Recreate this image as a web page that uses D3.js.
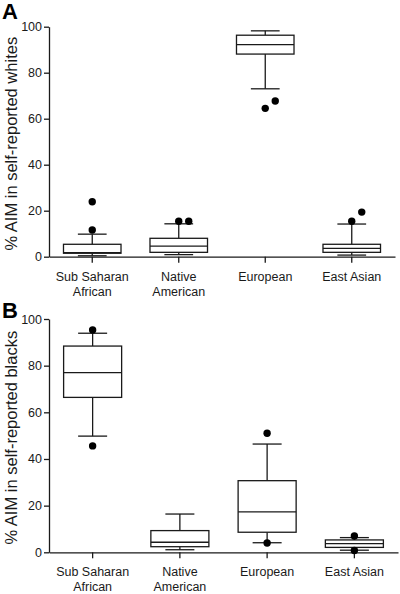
<!DOCTYPE html>
<html>
<head>
<meta charset="utf-8">
<script src="https://cdn.jsdelivr.net/npm/d3@7"></script>
<style>
  html, body { margin: 0; padding: 0; background: #fff; }
  svg { display: block; font-family: "Liberation Sans", Arial, Helvetica, sans-serif; }
</style>
</head>
<body>
<svg id="chart" width="400" height="594"></svg>
<script>
// ---- Data ----
const categories = ["Sub Saharan\nAfrican", "Native\nAmerican", "European", "East Asian"];
const yTicks = [0, 20, 40, 60, 80, 100];

// Panel A: self-reported whites
const whitesLow     = [0.4, 0.9, 73.0, 0.7];
const whitesQ1      = [1.5, 1.9, 88.1, 1.9];
const whitesMedian  = [1.8, 4.6, 92.2, 3.6];
const whitesQ3      = [5.4, 8.0, 96.3, 5.4];
const whitesHigh    = [9.8, 14.3, 98.2, 14.2];
const whitesOutliers = [[11.6, 23.9], [15.4, 15.4], [64.5, 67.7], [15.4, 19.4]];

// Panel B: self-reported blacks
const blacksLow     = [49.8, 1.1, 4.1, 0.9];
const blacksQ1      = [66.4, 2.4, 8.6, 2.1];
const blacksMedian  = [77.0, 4.3, 17.3, 3.7];
const blacksQ3      = [88.4, 9.3, 30.7, 5.3];
const blacksHigh    = [93.9, 16.4, 46.4, 6.3];
const blacksOutliers = [[45.6, 95.3], [], [4.0, 51.0], [0.8, 7.0]];

const panels = [
  { letter: "A", title: "% AIM in self-reported whites",
    low: whitesLow, q1: whitesQ1, med: whitesMedian, q3: whitesQ3, high: whitesHigh, out: whitesOutliers,
    top: 26.7, bottom: 256.7, left: 49, right: 395, letterY: 19 },
  { letter: "B", title: "% AIM in self-reported blacks",
    low: blacksLow, q1: blacksQ1, med: blacksMedian, q3: blacksQ3, high: blacksHigh, out: blacksOutliers,
    top: 319, bottom: 552.3, left: 49, right: 398, letterY: 318 }
];

const svg = d3.select("#chart");
const ink = "#1a1a1a";

panels.forEach(p => {
  const g = svg.append("g");
  const y = d3.scaleLinear().domain([0, 100]).range([p.bottom, p.top]);
  const x = d3.scaleBand().domain(categories).range([p.left, p.right]).paddingInner(0).paddingOuter(0);
  const boxW = x.bandwidth() * 0.665;
  const capW = boxW / 2;

  // y axis
  const ya = g.append("g").attr("transform", `translate(${p.left},0)`)
    .call(d3.axisLeft(y).tickValues(yTicks).tickSize(5).tickSizeOuter(0).tickPadding(2));
  ya.selectAll("text").attr("font-size", 12.5).attr("fill", ink).attr("font-family", "Liberation Sans, Arial, sans-serif");
  ya.selectAll("line, path").attr("stroke", ink).attr("stroke-width", 1.3);

  // x axis
  const xa = g.append("g").attr("transform", `translate(0,${p.bottom})`)
    .call(d3.axisBottom(x).tickSize(6).tickSizeOuter(0).tickFormat(""));
  xa.selectAll("line, path").attr("stroke", ink).attr("stroke-width", 1.3);
  xa.selectAll(".tick").each(function(d) {
    const t = d3.select(this).append("text")
      .attr("fill", ink).attr("font-size", 12.5).attr("text-anchor", "middle")
      .attr("font-family", "Liberation Sans, Arial, sans-serif");
    d.split("\n").forEach((line, i) => {
      t.append("tspan").attr("x", 0).attr("y", 24 + i * 15).text(line);
    });
  });

  // boxes
  categories.forEach((c, i) => {
    const cx = x(c) + x.bandwidth() / 2;
    const bg = g.append("g");
    // whiskers
    bg.append("line").attr("x1", cx).attr("x2", cx).attr("y1", y(p.q3[i])).attr("y2", y(p.high[i]));
    bg.append("line").attr("x1", cx).attr("x2", cx).attr("y1", y(p.q1[i])).attr("y2", y(p.low[i]));
    bg.append("line").attr("x1", cx - capW / 2).attr("x2", cx + capW / 2).attr("y1", y(p.high[i])).attr("y2", y(p.high[i]));
    bg.append("line").attr("x1", cx - capW / 2).attr("x2", cx + capW / 2).attr("y1", y(p.low[i])).attr("y2", y(p.low[i]));
    // box
    bg.append("rect").attr("x", cx - boxW / 2).attr("y", y(p.q3[i]))
      .attr("width", boxW).attr("height", y(p.q1[i]) - y(p.q3[i]))
      .attr("fill", "#fff");
    bg.append("line").attr("x1", cx - boxW / 2).attr("x2", cx + boxW / 2).attr("y1", y(p.med[i])).attr("y2", y(p.med[i]));
    bg.selectAll("line, rect").attr("stroke", ink).attr("stroke-width", 1.3);

    // outliers: spread horizontally when they would overlap
    const pts = p.out[i].slice().sort((a, b) => a - b);
    const placed = [];
    pts.forEach(v => {
      const py = y(v);
      let k = 0;
      while (placed.some(q => q.k === k && Math.abs(q.py - py) < 12)) k++;
      placed.push({ py, k });
      bg.append("circle").attr("cx", cx + k * 10).attr("cy", py).attr("r", 3.7).attr("fill", "#000");
    });
  });

  // panel letter
  svg.append("text").attr("x", 2).attr("y", p.letterY).text(p.letter)
    .attr("font-size", 22).attr("font-weight", "bold").attr("fill", "#000");

  // y title
  svg.append("text")
    .attr("transform", `translate(17,${(p.top + p.bottom) / 2 + 2}) rotate(-90)`)
    .attr("text-anchor", "middle").attr("font-size", 16.5).attr("fill", ink)
    .text(p.title);
});
</script>
</body>
</html>
